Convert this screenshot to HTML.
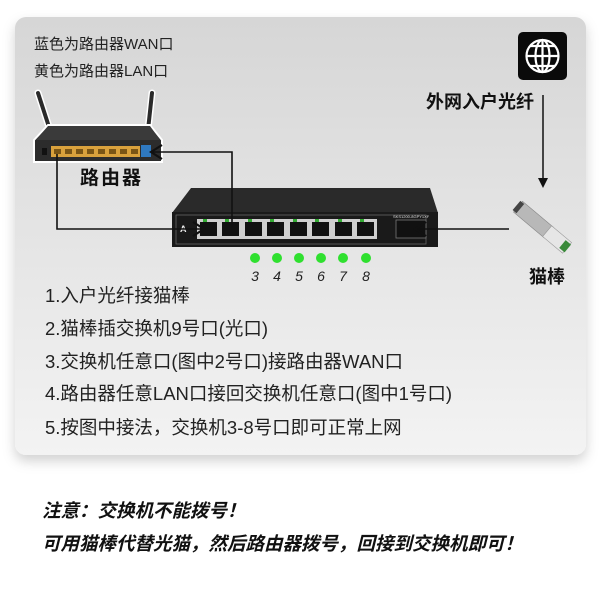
<!DOCTYPE html>
<html><head><meta charset="utf-8"><style>
html,body{margin:0;padding:0;background:#fff;width:600px;height:600px;overflow:hidden}
.t{font-family:"Liberation Sans","Noto Sans CJK SC",sans-serif}
</style></head><body>
<svg width="600" height="600" viewBox="0 0 600 600" xmlns="http://www.w3.org/2000/svg" class="t">
<defs>
<linearGradient id="bg" x1="0" y1="0" x2="0" y2="1">
<stop offset="0" stop-color="#d6d6d6"/><stop offset="1" stop-color="#f3f3f3"/></linearGradient>
<filter id="sh" x="-10%" y="-10%" width="120%" height="130%"><feDropShadow dx="0" dy="6" stdDeviation="6" flood-color="#000" flood-opacity="0.18"/></filter>
</defs>
<rect x="15" y="17" width="571" height="438" rx="11" fill="url(#bg)" filter="url(#sh)"/>

<text x="34" y="49" font-size="15" fill="#222">蓝色为路由器WAN口</text>
<text x="34" y="76" font-size="15" fill="#222">黄色为路由器LAN口</text>

<!-- globe -->
<rect x="518" y="32" width="49" height="48" rx="5" fill="#0a0a0a"/>
<g stroke="#fff" stroke-width="2.2" fill="none">
<circle cx="542.5" cy="56" r="16"/>
<ellipse cx="542.5" cy="56" rx="7" ry="16"/>
<line x1="542.5" y1="40" x2="542.5" y2="72"/>
<line x1="526.5" y1="56" x2="558.5" y2="56"/>
<line x1="530" y1="46" x2="555" y2="46"/>
<line x1="530" y1="66" x2="555" y2="66"/>
</g>
<text x="534" y="108" font-size="18" font-weight="bold" text-anchor="end" fill="#111">外网入户光纤</text>
<line x1="543" y1="95" x2="543" y2="180" stroke="#111" stroke-width="1.5"/>
<path d="M538,178 L548,178 L543,188 Z" fill="#111"/>

<!-- router -->
<g>
<path d="M38,93 L50,130 M152,93 L148,130" stroke="#fff" stroke-width="7" stroke-linecap="round"/>
<path d="M38,93 L50,130 M152,93 L148,130" stroke="#2a2a2a" stroke-width="4" stroke-linecap="round"/>
<path d="M48,125 L150,125 L162,140 L162,162 L34,162 L34,140 Z" fill="#2c2c2c" stroke="#fff" stroke-width="2"/>
<path d="M48,126 L150,126 L160,140 L36,140 Z" fill="#3a3a3a"/>
<rect x="42" y="148" width="5" height="7" fill="#111"/>
<rect x="51" y="146" width="89" height="11" fill="#d9a13c"/>
<g fill="#7a5515">
<rect x="54" y="149" width="7" height="5"/><rect x="65" y="149" width="7" height="5"/><rect x="76" y="149" width="7" height="5"/><rect x="87" y="149" width="7" height="5"/><rect x="98" y="149" width="7" height="5"/><rect x="109" y="149" width="7" height="5"/><rect x="120" y="149" width="7" height="5"/><rect x="131" y="149" width="7" height="5"/>
</g>
<rect x="141" y="145" width="10" height="12" fill="#2f79c0"/>
</g>
<text x="80" y="184" font-size="19" font-weight="bold" fill="#111" letter-spacing="2">路由器</text>

<!-- switch -->
<path d="M191,188 L430,188 L438,213 L172,213 Z" fill="#2a2a2a"/>
<rect x="172" y="212" width="266" height="35" fill="#1a1a1a"/>
<rect x="176" y="215" width="250" height="29" fill="none" stroke="#666" stroke-width="0.8"/>
<g>
<rect x="197" y="219" width="180" height="20" fill="#cfcfcf"/>
<g fill="#111">
<rect x="200" y="222" width="17" height="14"/><rect x="222" y="222" width="17" height="14"/><rect x="245" y="222" width="17" height="14"/><rect x="267" y="222" width="17" height="14"/><rect x="290" y="222" width="17" height="14"/><rect x="312" y="222" width="17" height="14"/><rect x="335" y="222" width="17" height="14"/><rect x="357" y="222" width="17" height="14"/>
</g>
<g fill="#3a3">
<rect x="203" y="219" width="4" height="3"/><rect x="225" y="219" width="4" height="3"/><rect x="248" y="219" width="4" height="3"/><rect x="270" y="219" width="4" height="3"/><rect x="293" y="219" width="4" height="3"/><rect x="315" y="219" width="4" height="3"/><rect x="338" y="219" width="4" height="3"/><rect x="360" y="219" width="4" height="3"/>
</g>
</g>
<rect x="396" y="220" width="30" height="18" fill="#111" stroke="#777" stroke-width="0.8"/>
<text x="393" y="218" font-size="4" fill="#ddd">SKS1200-8GPY1XF</text>
<text x="180" y="232" font-size="9" fill="#eee" font-weight="bold">A</text>

<!-- connectors -->
<g fill="none" stroke="#111" stroke-width="1.6">
<polyline points="232,228 232,152 152,152"/>
<polyline points="57,154 57,229 203,229"/>
<line x1="509" y1="229" x2="415" y2="229"/>
</g>
<g fill="none" stroke="#111" stroke-width="2.2" stroke-linejoin="miter">
<polyline points="162,145 151,152 162,159"/>
<polyline points="193,222 204,229 193,236"/>
<polyline points="426,222 415,229 426,236"/>
</g>

<!-- SFP module -->
<g transform="translate(541,226) rotate(40)">
<rect x="-30" y="-7" width="40" height="14" fill="#b8b8b8" stroke="#888" stroke-width="0.6"/>
<rect x="8" y="-7" width="26" height="14" fill="#e6e6e6" stroke="#999" stroke-width="0.6"/>
<rect x="28" y="-5" width="7" height="10" fill="#3a8a3a"/>
<rect x="-32" y="-6" width="5" height="12" fill="#444"/>
</g>
<text x="529" y="283" font-size="18" font-weight="bold" fill="#111">猫棒</text>

<!-- green dots -->
<g fill="#2fe02f">
<circle cx="255" cy="258" r="5"/><circle cx="277" cy="258" r="5"/><circle cx="299" cy="258" r="5"/><circle cx="321" cy="258" r="5"/><circle cx="343" cy="258" r="5"/><circle cx="366" cy="258" r="5"/>
</g>
<g font-size="14" font-style="italic" fill="#222" text-anchor="middle">
<text x="255" y="281">3</text><text x="277" y="281">4</text><text x="299" y="281">5</text><text x="321" y="281">6</text><text x="343" y="281">7</text><text x="366" y="281">8</text>
</g>

<g font-size="18.5" fill="#222">
<text x="45" y="302">1.入户光纤接猫棒</text>
<text x="45" y="335">2.猫棒插交换机9号口(光口)</text>
<text x="45" y="368">3.交换机任意口(图中2号口)接路由器WAN口</text>
<text x="45" y="400">4.路由器任意LAN口接回交换机任意口(图中1号口)</text>
<text x="45" y="434">5.按图中接法，交换机3-8号口即可正常上网</text>
</g>

<g font-size="18.5" font-weight="bold" font-style="italic" fill="#111">
<text x="42" y="517">注意：交换机不能拨号！</text>
<text x="42" y="550">可用猫棒代替光猫，然后路由器拨号，回接到交换机即可！</text>
</g>
</svg>
</body></html>
